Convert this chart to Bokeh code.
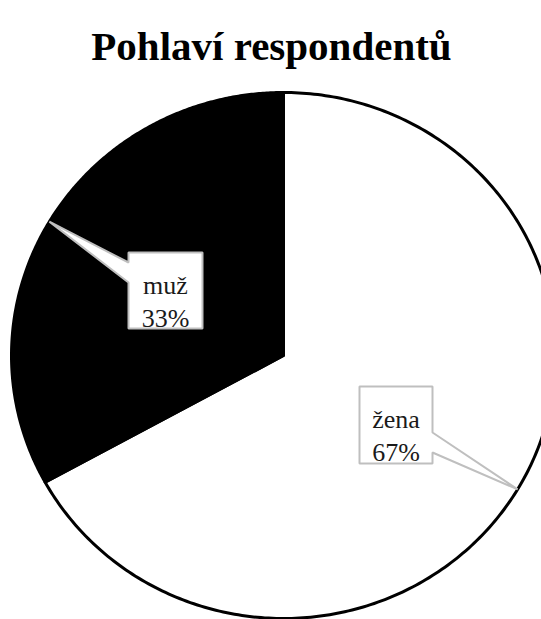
import numpy as np
from bokeh.plotting import figure
from bokeh.models import Range1d
from bokeh.core.properties import value
from bokeh.embed import file_html
from bokeh.resources import INLINE

# ---- data ----
title_text = "Pohlaví respondentů"
categories = ["žena", "muž"]
shares = [67, 33]
fill_colors = ["#ffffff", "#000000"]

# ---- layout (screen-pixel coordinates) ----
W, H = 541, 619
cx, cy = 283.0, 355.0
rx, ry = 272.0, 263.0

p = figure(width=W, height=H, output_backend="svg", toolbar_location=None,
           x_range=Range1d(0, W), y_range=Range1d(H, 0),
           min_border=0, outline_line_color=None, background_fill_color="white",
           border_fill_color="white")
p.axis.visible = False
p.grid.visible = False

total = float(sum(shares))
fracs = np.array(shares) / total
ends = np.cumsum(fracs) * 2 * np.pi
starts = ends - fracs * 2 * np.pi
mids = (starts + ends) / 2


def pt(theta, sx=rx, sy=ry):
    # theta measured clockwise from 12 o'clock
    return cx + sx * np.sin(theta), cy - sy * np.cos(theta)


xs, ys = [], []
for a0, a1 in zip(starts, ends):
    t = np.linspace(a0, a1, 300)
    ex, ey = pt(t)
    xs.append([cx] + list(ex) + [cx])
    ys.append([cy] + list(ey) + [cy])

p.patches(xs, ys, fill_color=fill_colors, line_color="black", line_width=3,
          line_join="round")

# ---- callouts ----
boxes = {
    "žena": dict(l=359, t=386, w=73, h=77, side="right", b0=46, b1=66),
    "muž": dict(l=128, t=252, w=74, h=76, side="left", b0=10, b1=30),
}

for cat, share, mid in zip(categories, shares, mids):
    b = boxes[cat]
    tx, ty = pt(mid)
    l, t, w, h = b["l"], b["t"], b["w"], b["h"]
    r, bt = l + w, t + h
    if b["side"] == "right":
        px = [l, r, r, tx, r, r, l]
        py = [t, t, t + b["b0"], ty, t + b["b1"], bt, bt]
    else:
        px = [l, r, r, l, l, tx, l]
        py = [t, t, bt, bt, t + b["b1"], ty, t + b["b0"]]
    p.patch(px, py, fill_color="white", line_color="#bfbfbf", line_width=2)
    xc = l + w / 2
    p.text(x=[xc], y=[t + 33], text=[cat], text_align="center",
           text_baseline="alphabetic", text_font=value("Liberation Serif"),
           text_font_size="26px", text_color="#1a1a1a")
    p.text(x=[xc], y=[t + 66], text=[f"{share}%"], text_align="center",
           text_baseline="alphabetic", text_font=value("Liberation Serif"),
           text_font_size="26px", text_color="#1a1a1a")

# ---- title ----
p.text(x=[271], y=[45], text=[title_text], text_align="center",
       text_baseline="alphabetic", text_font=value("Liberation Serif"),
       text_font_style="bold", text_font_size="41px", text_color="black")

open("out.html", "w").write(file_html(p, INLINE))
